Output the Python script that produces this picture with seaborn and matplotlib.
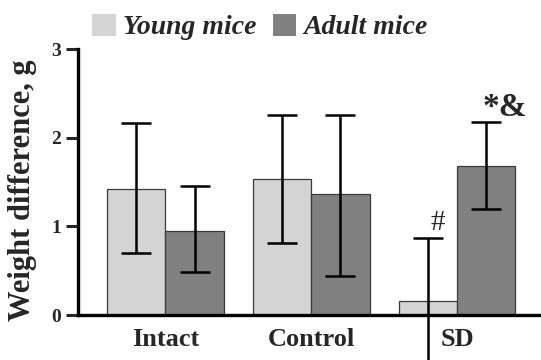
import matplotlib
matplotlib.use("Agg")
import matplotlib.pyplot as plt
from matplotlib.patches import Patch
import seaborn as sns
import pandas as pd
import numpy as np

categories = ["Intact", "Control", "SD"]
groups = ["Young mice", "Adult mice"]
young_mean = [1.42, 1.53, 0.16]
adult_mean = [0.95, 1.36, 1.68]
young_low = [0.70, 0.81, -0.56]
young_high = [2.16, 2.26, 0.87]
adult_low = [0.49, 0.44, 1.20]
adult_high = [1.45, 2.26, 2.18]
yticks = [0, 1, 2, 3]
colors = {"Young mice": "#d4d4d4", "Adult mice": "#808080"}

sns.set_style("white")
plt.rcParams["font.family"] = ["Liberation Serif", "DejaVu Serif"]
SERIF = ["Liberation Serif", "DejaVu Serif"]

df = pd.DataFrame({
    "cat": categories * 2,
    "group": [groups[0]] * 3 + [groups[1]] * 3,
    "value": young_mean + adult_mean,
})

fig = plt.figure(figsize=(5.41, 3.6), dpi=100)
ax = fig.add_axes([78 / 541, 45 / 360, 1 - 78 / 541, 266 / 360])
sns.barplot(data=df, x="cat", y="value", hue="group", order=categories,
            hue_order=groups, palette=colors, errorbar=None, width=0.8,
            edgecolor="#3a3a3a", linewidth=0.9, saturation=1, legend=False, ax=ax)

lows = [young_low, adult_low]
highs = [young_high, adult_high]
means = [young_mean, adult_mean]
bar_containers = list(ax.containers)
for gi, cont in enumerate(bar_containers):
    xs = [p.get_x() + p.get_width() / 2 for p in cont.patches]
    m = np.array(means[gi])
    lo = m - np.array(lows[gi])
    hi = np.array(highs[gi]) - m
    eb = ax.errorbar(xs, m, yerr=[lo, hi], fmt="none", ecolor="black",
                     elinewidth=1.8, capsize=10.5, capthick=1.8, clip_on=False, zorder=5)
    for art in list(eb.lines[1]) + list(eb.lines[2]):
        art.set_clip_on(False)

ax.set_xlim(-0.6, 2.575)
ax.set_ylim(0, 3)
ax.set_yticks(yticks)
ax.set_yticklabels([str(t) for t in yticks], fontsize=14, fontweight="bold", family=SERIF)
ax.set_xticks(range(len(categories)))
ax.set_xticklabels(categories, fontsize=19, fontweight="bold", family=SERIF)
ax.tick_params(axis="x", length=0, pad=9)
ax.tick_params(axis="y", direction="out", length=9, width=2.2, pad=3, left=True)
ax.set_xlabel("")
ax.set_ylabel("Weight difference, g", fontsize=22, fontweight="bold", family=SERIF)
ax.yaxis.set_label_coords(-0.088, 0.47)
sns.despine(ax=ax)
for s in ["left", "bottom"]:
    ax.spines[s].set_linewidth(2.4)
    ax.spines[s].set_color("black")

# annotations
ax.text(1.815, 0.96, "#", fontsize=21, family=SERIF, ha="left", va="baseline")
ax.text(2.175, 2.24, "*&", fontsize=24, fontweight="bold", family=SERIF, ha="left", va="baseline")

handles = [Patch(facecolor=colors[g], edgecolor="none") for g in groups]
fig.legend(handles, groups, loc="center left", bbox_to_anchor=(92 / 541, 1 - 27 / 360),
           ncol=2, frameon=False, borderpad=0, borderaxespad=0,
           handlelength=0.85, handleheight=0.85, handletextpad=0.25, columnspacing=0.6,
           prop={"family": SERIF, "style": "italic", "weight": "bold", "size": 20})

fig.savefig("out.png", dpi=100)
